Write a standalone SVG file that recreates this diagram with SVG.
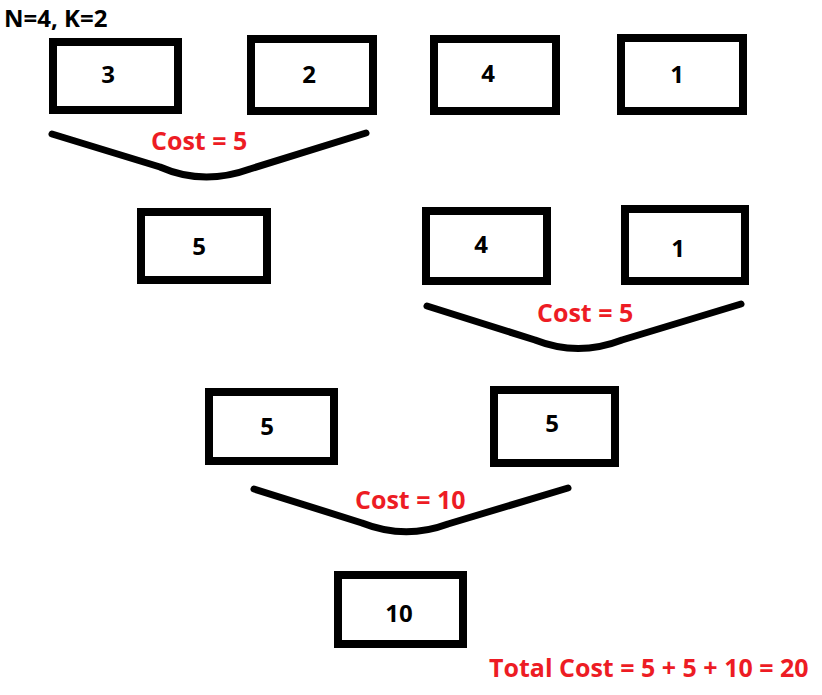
<svg xmlns="http://www.w3.org/2000/svg" width="822" height="695" viewBox="0 0 822 695">
<style>
.box{fill:#fff;stroke:#000;stroke-width:8}
.num{font-family:"Open Sans","Liberation Sans",sans-serif;font-weight:bold;font-size:24px;fill:#000;text-anchor:middle;dominant-baseline:central}
.cost{font-family:"Open Sans","Liberation Sans",sans-serif;font-weight:bold;font-size:25px;fill:#ed1c24}
.curve{fill:none;stroke:#000;stroke-width:7;stroke-linecap:round;stroke-linejoin:round}
</style>
<rect width="822" height="695" fill="#fff"/>
<text x="4" y="27" font-family="'Open Sans','Liberation Sans',sans-serif" font-weight="bold" font-size="24" fill="#000">N=4, K=2</text>
<g id="n1"><rect class="box" x="53" y="42" width="125" height="68"/><text class="num" x="108" y="73">3</text></g>
<g id="n2"><rect class="box" x="251" y="39" width="122" height="72"/><text class="num" x="309" y="73">2</text></g>
<g id="n3"><rect class="box" x="434" y="39" width="122" height="72"/><text class="num" x="488" y="72">4</text></g>
<g id="n4"><rect class="box" x="621" y="38" width="122" height="73"/><text class="num" x="677" y="73">1</text></g>
<g id="n5"><rect class="box" x="141" y="212" width="126" height="68"/><text class="num" x="199" y="245">5</text></g>
<g id="n6"><rect class="box" x="426" y="211" width="121" height="70"/><text class="num" x="481" y="243">4</text></g>
<g id="n7"><rect class="box" x="625" y="209" width="120" height="72"/><text class="num" x="678" y="247">1</text></g>
<g id="n8"><rect class="box" x="209" y="392" width="125" height="69"/><text class="num" x="267" y="425">5</text></g>
<g id="n9"><rect class="box" x="494" y="390" width="121" height="73"/><text class="num" x="552" y="422">5</text></g>
<g id="n10"><rect class="box" x="338" y="575" width="125" height="69"/><text class="num" x="399" y="612">10</text></g>
<g id="connectors">
<path class="curve" d="M52,134 L160,167 Q203,186 250,169 L366,133"/>
<path class="curve" d="M427,306 L535,340 Q578,357 622,340 L741,304"/>
<path class="curve" d="M254,489 L362,523 Q405,540 448,524 L568,488"/>
</g>
<text class="cost" x="151" y="150">Cost = 5</text>
<text class="cost" x="537" y="322">Cost = 5</text>
<text class="cost" x="355" y="509">Cost = 10</text>
<text class="cost" x="489" y="677">Total Cost = 5 + 5 + 10 = 20</text>
</svg>
